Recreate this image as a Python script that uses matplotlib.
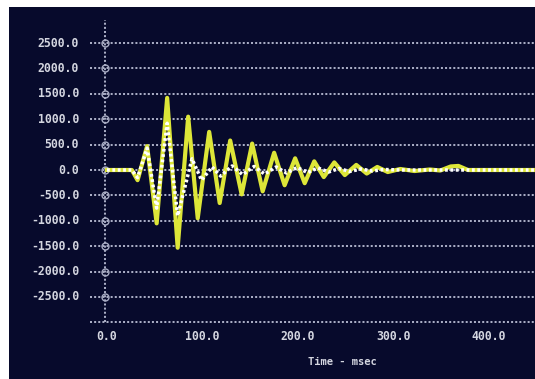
import matplotlib
matplotlib.use("Agg")
import matplotlib.pyplot as plt
from matplotlib.patches import Rectangle

# ---- data ----
yellow_t = [0, 26, 32, 42, 52, 63, 74, 85, 95, 107, 118, 129, 141, 152, 163, 175, 186, 197,
            207, 217, 227, 238, 249, 261, 272, 283, 294, 307, 322, 338, 349, 360, 368, 378, 448]
yellow_v = [0, 0, -200, 470, -1050, 1420, -1530, 1050, -950, 750, -650, 580, -480, 520, -420,
            340, -300, 230, -260, 170, -140, 150, -100, 100, -70, 60, -40, 20, -20, 10, -10,
            70, 80, 0, 0]

white_t = [0, 26, 32, 42, 52, 63, 74, 89, 99, 110, 119, 131, 142, 154, 165, 177, 188, 199,
           210, 221, 232, 243, 254, 266, 278, 290, 310, 448]
white_v = [0, 0, -150, 430, -750, 920, -900, 220, -200, 60, -120, 80, -90, 70, -80, 60, -60,
           50, -50, 40, -40, 30, -30, 20, -20, 10, 0, 0]

y_ticks = [2500, 2000, 1500, 1000, 500, 0, -500, -1000, -1500, -2000, -2500]
x_ticks = [0, 100, 200, 300, 400]
x_label = "Time - msec"

# ---- figure ----
W, H = 535, 379
fig = plt.figure(figsize=(W / 100, H / 100), dpi=100)
fig.patch.set_facecolor("white")
navy = "#070a2c"
fig.add_artist(Rectangle((9 / W, 0), 1, 1 - 7 / H, transform=fig.transFigure,
                         facecolor=navy, edgecolor="none", zorder=0))

# axes region in pixels: x 90..535, y 20..323 (from top)
left, right, top, bottom = 90, 535, 20, 323
ax = fig.add_axes([left / W, 1 - bottom / H, (right - left) / W, (bottom - top) / H])
ax.set_facecolor("none")
for s in ax.spines.values():
    s.set_visible(False)

px_per_ms = 0.955
x0px = 107
xmin = (left - x0px) / px_per_ms
xmax = (right - x0px) / px_per_ms
v_per_px = 500 / 25.4
ymax = (170 - top) * v_per_px
ymin = -(bottom - 170) * v_per_px
ax.set_xlim(xmin, xmax)
ax.set_ylim(ymin, ymax)
ax.set_xticks([])
ax.set_yticks([])

grid_c = "#a8acc4"
dots = (0, (1.0, 1.05))
# horizontal dotted gridlines (including bottom line at -3000)
for yv in y_ticks + [-3000]:
    ax.plot([xmin, xmax], [yv, yv], color=grid_c, lw=1.45,
            linestyle=dots, dash_capstyle="butt", zorder=1)
# vertical dotted axis line
ax_x = -2
ax.plot([ax_x, ax_x], [-3000, ymax], color=grid_c, lw=1.45,
        linestyle=dots, dash_capstyle="butt", zorder=1)
ax.plot([ax_x] * len(y_ticks), y_ticks, linestyle="none", marker="o", ms=5,
        mfc="none", mec=grid_c, mew=1.0, zorder=1)

# traces
ax.plot(yellow_t, yellow_v, color="#dde638", lw=3.0, solid_joinstyle="round", zorder=3)
ax.plot(white_t, white_v, color="white", lw=2.5, linestyle=(0, (0.8, 0.75)),
        dash_capstyle="butt", zorder=4)

lab_c = "#d4d6e0"
font = dict(family="DejaVu Sans Mono", weight="bold", size=8.3, color=lab_c)
for yv in y_ticks:
    ax.text((79 - x0px) / px_per_ms, yv, f"{yv:.1f}", ha="right", va="center", **font)
for xv in x_ticks:
    ax.text(xv, -(337 - 170) * v_per_px, f"{xv:.1f}", ha="center", va="center",
            clip_on=False, **font)
ax.text((342 - x0px) / px_per_ms, -(362 - 170) * v_per_px, x_label, ha="center",
        va="center", clip_on=False, **dict(font, size=7.5))

fig.savefig("out.png", dpi=100, facecolor=fig.get_facecolor())
